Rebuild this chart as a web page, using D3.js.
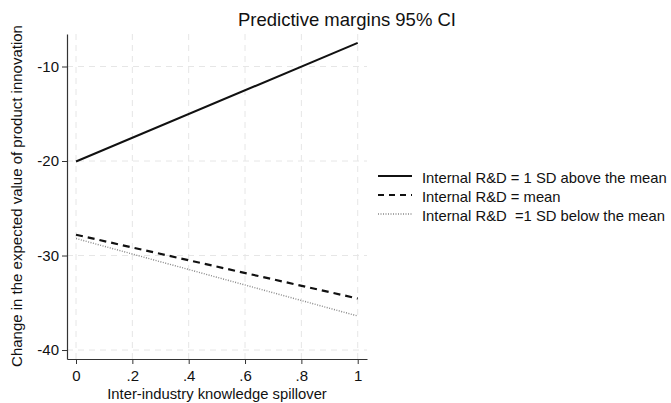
<!DOCTYPE html>
<html><head><meta charset="utf-8">
<script src="https://cdn.jsdelivr.net/npm/d3@7"></script>
<style>body{margin:0;background:#fff;} text{font-family:"Liberation Sans",Arial,sans-serif;}</style>
</head><body><svg id="c" width="671" height="403"></svg>
<script>
const xValues = [0, 1];
const seriesNames = ["Internal R&D = 1 SD above the mean", "Internal R&D = mean", "Internal R&D  =1 SD below the mean"];
const seriesAbove = [-20.05, -7.5];
const seriesMean = [-27.8, -34.55];
const seriesBelow = [-28.2, -36.4];
const xTicks = [0, 0.2, 0.4, 0.6, 0.8, 1];
const xTickLabels = ["0", ".2", ".4", ".6", ".8", "1"];
const yTicks = [-10, -20, -30, -40];
const yTickLabels = ["-10", "-20", "-30", "-40"];

const svg = d3.select("#c");
const L = 67, R = 367, T = 34, B = 359;
const x = d3.scaleLinear().domain([-0.032, 1.033]).range([L, R]);
const y = d3.scaleLinear().domain([-40.95, -6.56]).range([B, T]);

// gridlines
const g = svg.append("g");
g.selectAll("line.gx").data(xTicks).join("line")
  .attr("x1", d => x(d)).attr("x2", d => x(d)).attr("y1", T).attr("y2", B)
  .attr("stroke", "#e6e6e6").attr("stroke-width", 1).attr("stroke-dasharray", "6,5");
g.selectAll("line.gy").data(yTicks).join("line")
  .attr("x1", L).attr("x2", R).attr("y1", d => y(d)).attr("y2", d => y(d))
  .attr("stroke", "#e6e6e6").attr("stroke-width", 1).attr("stroke-dasharray", "6,5");

// axes
const xAxis = svg.append("g").attr("transform", `translate(0,${B})`)
  .call(d3.axisBottom(x).tickValues(xTicks).tickFormat((d, i) => xTickLabels[i]).tickSize(5).tickSizeOuter(0));
const yAxis = svg.append("g").attr("transform", `translate(${L},0)`)
  .call(d3.axisLeft(y).tickValues(yTicks).tickFormat((d, i) => yTickLabels[i]).tickSize(5).tickSizeOuter(0));
[xAxis, yAxis].forEach(a => {
  a.select(".domain").attr("stroke", "#333").attr("stroke-width", 1.2);
  a.selectAll(".tick line").attr("stroke", "#333");
  a.selectAll("text").attr("fill", "#111").style("font-size", "15px").style("font-family", "'Liberation Sans',Arial,sans-serif");
});
xAxis.selectAll("text").attr("y", 8).attr("dy", "0.95em");
yAxis.selectAll("text").attr("x", -8);

// lines
const series = [
  {vals: seriesAbove, stroke: "#111", width: 2, dash: null},
  {vals: seriesMean, stroke: "#111", width: 2.2, dash: "7,5"},
  {vals: seriesBelow, stroke: "#888", width: 1.4, dash: "1,1.5"}
];
const line = d3.line().x((d, i) => x(xValues[i])).y(d => y(d));
series.forEach(s => {
  svg.append("path").datum(s.vals).attr("d", line)
    .attr("fill", "none").attr("stroke", s.stroke).attr("stroke-width", s.width)
    .attr("stroke-dasharray", s.dash);
});

// title
svg.append("text").attr("x", 238).attr("y", 26).attr("text-anchor", "start")
  .style("font-size", "18.5px").attr("fill", "#111").text("Predictive margins 95% CI");

// axis titles
svg.append("text").attr("x", 217).attr("y", 399).attr("text-anchor", "middle")
  .style("font-size", "14.8px").attr("fill", "#111").text("Inter-industry knowledge spillover");
svg.append("text").attr("transform", "translate(22,196) rotate(-90)").attr("text-anchor", "middle")
  .style("font-size", "15px").attr("fill", "#111").text("Change in the expected value of product innovation");

// legend
const lg = svg.append("g");
const rows = [183, 202, 221];
series.forEach((s, i) => {
  lg.append("line").attr("x1", 378).attr("x2", 412).attr("y1", rows[i] - 7).attr("y2", rows[i] - 7)
    .attr("stroke", s.stroke).attr("stroke-width", s.width === 2.2 ? 2 : s.width)
    .attr("stroke-dasharray", i === 1 ? "6,5" : s.dash);
  lg.append("text").attr("x", 422).attr("y", rows[i]).style("font-size", "14.8px")
    .style("white-space", "pre").attr("xml:space", "preserve")
    .attr("fill", "#111").text(seriesNames[i]);
});
</script></body></html>
